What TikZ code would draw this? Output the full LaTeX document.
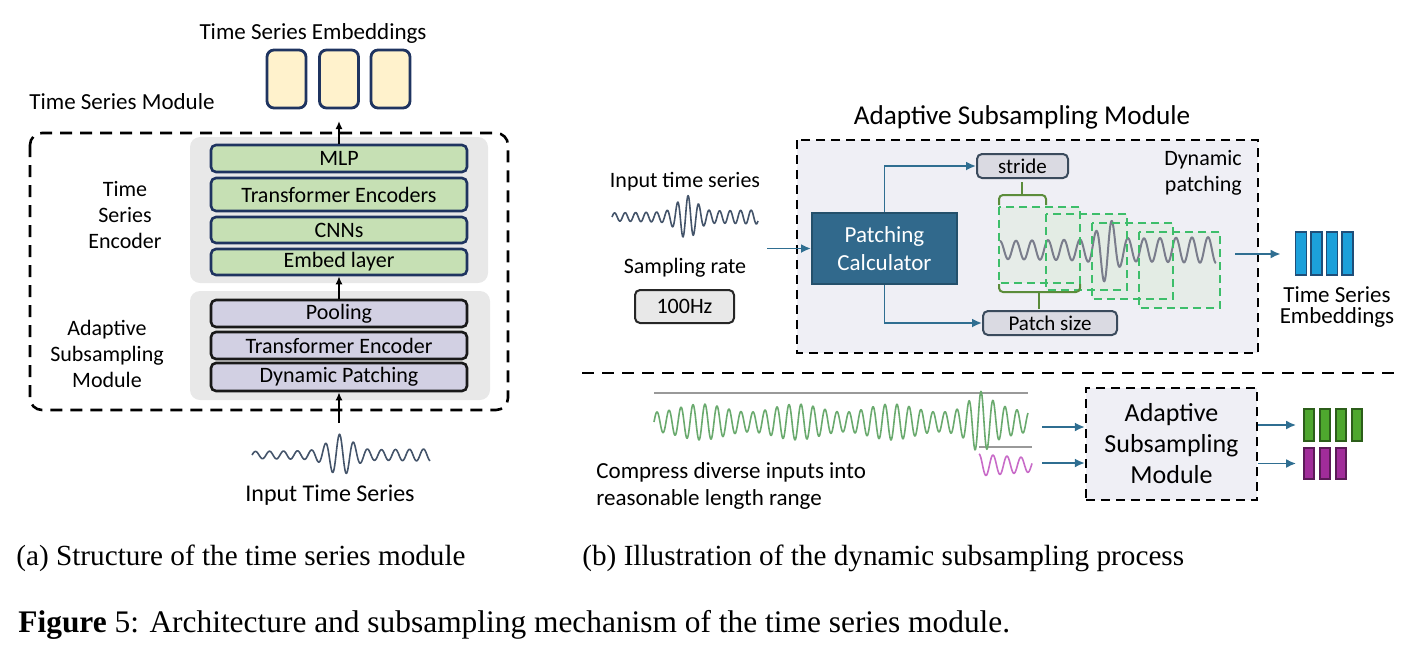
\documentclass[tikz,border=0pt]{standalone}
\usepackage{fontspec}
\setmainfont{Liberation Serif}
\newfontfamily\dfont{Carlito}
\usetikzlibrary{positioning,arrows.meta}

\definecolor{navy}{HTML}{1F3460}
\definecolor{lgreen}{HTML}{C6E0B4}
\definecolor{cream}{HTML}{FFF2CC}
\definecolor{lpurple}{HTML}{D2D0E3}
\definecolor{bggray}{HTML}{E8E8E8}
\definecolor{rbg}{HTML}{EFEFF5}
\definecolor{calcblue}{HTML}{31698C}
\definecolor{calcedge}{HTML}{24506B}
\definecolor{flowblue}{HTML}{2F6E91}
\definecolor{tagfill}{HTML}{DADAE2}
\definecolor{tagedge}{HTML}{3A4A5C}
\definecolor{bracegreen}{HTML}{5B8C3A}
\definecolor{patchgreen}{HTML}{3DBE6A}
\definecolor{patchfill}{HTML}{E3ECE3}
\definecolor{wavegray}{HTML}{7A7D8C}
\definecolor{wavenavy}{HTML}{44546A}
\definecolor{wavegreen}{HTML}{6AAA6E}
\definecolor{wavepink}{HTML}{C86BC8}
\definecolor{embblue}{HTML}{1CA0DA}
\definecolor{embedge}{HTML}{1F4E79}
\definecolor{bargreen}{HTML}{4EA72E}
\definecolor{baredge}{HTML}{2C5E1A}
\definecolor{barpurple}{HTML}{A12C9A}
\definecolor{barpedge}{HTML}{5C1A58}

\tikzset{
  lbl/.style={font=\dfont\fontsize{11}{13}\selectfont, inner sep=0pt, align=center},
  layer/.style={lbl, draw=navy, fill=lgreen, line width=1.3pt, rounded corners=2.5pt,
    minimum width=128pt},
  sublayer/.style={layer, draw=black!90, fill=lpurple},
  embcell/.style={draw=navy, fill=cream, line width=1.4pt, rounded corners=3.5pt,
    minimum width=19.5pt, minimum height=29pt, inner sep=0pt},
  tag/.style={lbl, font=\dfont\fontsize{10.5}{12}\selectfont, draw=tagedge, fill=tagfill,
    line width=1pt, rounded corners=2.5pt, minimum height=12pt},
  modbox/.style={draw=black, dashed, line width=1.2pt, dash pattern=on 4.5pt off 3pt},
  up/.style={-{Latex[length=4pt,width=3.5pt]}, line width=0.8pt},
  flow/.style={draw=flowblue, line width=0.9pt, -{Latex[length=5pt,width=4.5pt]}},
  bar/.style={draw=embedge, fill=embblue, line width=0.9pt, minimum width=5.5pt,
    minimum height=21.5pt, inner sep=0pt},
  wave/.style={line width=0.8pt, line join=round},
  patch/.style={draw=patchgreen, line width=1.1pt, dash pattern=on 4pt off 2.5pt},
  caption/.style={anchor=west, inner sep=0pt, font=\fontsize{14.6}{16}\selectfont}
}

\begin{document}
\begin{tikzpicture}[x=0.5pt, y=-0.5pt]
  \useasboundingbox (0,0) rectangle (1426,654);

  % ---------- (a) time series module ----------
  \node[lbl, font=\dfont\fontsize{11.5}{13}\selectfont] (emb_title) at (313,33) {Time Series Embeddings};
  \node[embcell] (e_1) at (286.5,79) {};
  \node[embcell] (e_2) at (339,79) {};
  \node[embcell] (e_3) at (390.5,79) {};
  \node[lbl, font=\dfont\fontsize{11.5}{13}\selectfont] (mod_title) at (122,102) {Time Series Module};

  \fill[bggray, rounded corners=5pt] (190,137) rectangle (488,283);
  \fill[bggray, rounded corners=5pt] (190,291) rectangle (490,400);
  \draw[line width=1.3pt, dash pattern=on 6pt off 4pt, rounded corners=6pt] (30,133) rectangle (508,410);

  \node[layer, minimum height=13.5pt] (mlp)  at (339,158.5) {MLP};
  \node[layer, minimum height=16.5pt] (tfe)  at (339,194.5) {Transformer Encoders};
  \node[layer, minimum height=13pt]   (cnn)  at (339,230)   {CNNs};
  \node[layer, minimum height=13pt]   (embl) at (339,262)   {Embed layer};

  \node[sublayer, minimum height=13.5pt] (pool)   at (339,313.5) {Pooling};
  \node[sublayer, minimum height=13.5pt] (tfe_s)  at (339,345.5) {Transformer Encoder};
  \node[sublayer, minimum height=14pt]   (dpatch) at (339,377)   {Dynamic Patching};

  \node[lbl] (enc_lbl) at (125,215) {Time\\Series\\Encoder};
  \node[lbl] (asm_lbl) at (107,354) {Adaptive\\Subsampling\\Module};

  \coordinate (emb_tip) at (339,121);
  \coordinate (ts_top) at (339,423);
  \draw[up] (mlp.north) -- (emb_tip);
  \draw[up] (pool.north) -- (embl.south);
  \draw[up] (ts_top) -- (dpatch.south);

  \draw[wave, wavenavy] plot[domain=0:178, samples=300]
    ({252+\x}, {455-(3.5+16*exp(-min((\x-88)*(\x-88)/256,9))+2.5/178*\x)*sin(360/14*\x)});
  \node[lbl, font=\dfont\fontsize{12}{14}\selectfont] (in_lbl) at (330,495) {Input Time Series};

  % ---------- (b) dynamic subsampling ----------
  \node[lbl, font=\dfont\fontsize{13.6}{15}\selectfont] (asm_title) at (1022,117) {Adaptive Subsampling Module};
  \draw[modbox, fill=rbg] (797,140) rectangle (1258,353);

  \node[lbl] (in_ts) at (685,182) {Input time series};
  \draw[wave, wavenavy] plot[domain=0:146, samples=260]
    ({612+\x}, {217-(4+16*exp(-min((\x-75)*(\x-75)/169,9))+3/146*\x)*sin(360/10.5*\x)});
  \node[lbl] (srate) at (685,268) {Sampling rate};
  \node[tag, font=\dfont\fontsize{11}{12}\selectfont, draw=black!85, fill=bggray,
    minimum width=49.5pt, minimum height=16.5pt] (hz) at (684.5,306.5) {100Hz};

  \node[lbl, font=\dfont\fontsize{11.5}{14}\selectfont, text=white, draw=calcedge, fill=calcblue,
    line width=1pt, minimum width=72.5pt, minimum height=35.5pt] (calc) at (884.5,248.5)
    {Patching\\Calculator};
  \coordinate (calc_in) at (767,248.5);
  \draw[flow] (calc_in) -- (calc.west);

  \node[tag, minimum width=45.5pt] (stride) at (1022.5,166) {stride};
  \node[tag, minimum width=67pt]   (psize)  at (1050,323)   {Patch size};
  \draw[flow] (calc.north) |- (stride.west);
  \draw[flow] (calc.south) |- (psize.west);

  \node[lbl, align=right] (dyn_lbl) at (1203,173) {Dynamic\\patching};

  % patches
  \foreach \px/\py in {999/207, 1046/214, 1092/223, 1139/232}
    \fill[patchfill, opacity=0.7] (\px,\py) rectangle ++(81,76);
  \draw[wave, wavegray, line width=1pt] plot[domain=0:216, samples=400]
    ({1000+\x}, {250-(9+4/216*\x+22*exp(-min((\x-107)/11*(\x-107)/11,9)))*sin(22.5*(\x+4))});
  \foreach \px/\py in {999/207, 1046/214, 1092/223, 1139/232}
    \draw[patch] (\px,\py) rectangle ++(81,76);

  % stride and patch size brackets
  \draw[bracegreen, line width=1pt, rounded corners=2pt]
    (999,205) -- (999,195) -- (1046,195) -- (1046,205);
  \draw[bracegreen, line width=1pt] (1022,195) -- (1022,182);
  \draw[bracegreen, line width=1pt, rounded corners=2pt]
    (999,284) -- (999,292) -- (1080,292) -- (1080,284);
  \draw[bracegreen, line width=1pt] (1039,292) -- (1039,309);

  % output embeddings
  \foreach \i/\bx in {1/1301, 2/1316.5, 3/1332, 4/1347.5}
    \node[bar] (b_\i) at (\bx,253.5) {};
  \coordinate (p_out) at (1235,254);
  \draw[flow, shorten >=7pt] (p_out) -- (b_1.west |- p_out);
  \node[lbl, font=\dfont\fontsize{11.5}{10.5}\selectfont] (ts_emb) at (1337,307) {Time Series\\Embeddings};

  % separator
  \draw[line width=1.4pt, dash pattern=on 6pt off 4pt] (582,373) -- (1400,373);

  % diverse inputs
  \draw[black!40, line width=0.6pt] (654,393) -- (1028,393);
  \draw[black!40, line width=0.6pt] (979,447) -- (1032,447);
  \draw[wave, wavegreen] plot[domain=0:374, samples=700]
    ({654+\x}, {422-(10+4-4*cos(360/95*\x)+13*exp(-min((\x-326)/12*(\x-326)/12,9)))*sin(30*\x)});
  \draw[wave, wavepink] plot[domain=0:53, samples=120]
    ({979+\x}, {465-(11-4/53*\x)*sin(360/14*(\x+3.5))});

  \node[lbl, font=\dfont\fontsize{13}{15.5}\selectfont, modbox, fill=rbg,
    minimum width=85.5pt, minimum height=56pt] (asm_b) at (1171.5,444)
    {Adaptive\\Subsampling\\Module};
  \coordinate (g_in) at (1042,427);
  \coordinate (p_in) at (1042,463);
  \draw[flow] (g_in) -- (g_in -| asm_b.west);
  \draw[flow] (p_in) -- (p_in -| asm_b.west);

  \foreach \i/\bx in {1/1309, 2/1325, 3/1341, 4/1357}
    \node[bar, draw=baredge, fill=bargreen, minimum width=5pt, minimum height=16pt] (g_\i) at (\bx,425) {};
  \foreach \i/\bx in {1/1309, 2/1325, 3/1341}
    \node[bar, draw=barpedge, fill=barpurple, minimum width=5pt, minimum height=15.5pt] (v_\i) at (\bx,463.5) {};
  \draw[flow, shorten >=3.5pt] (asm_b.east |- g_1) -- (g_1.west);
  \draw[flow, shorten >=3.5pt] (asm_b.east |- v_1) -- (v_1.west);

  \node[lbl, font=\dfont\fontsize{11.5}{13.5}\selectfont, align=left, anchor=west] (cmp_lbl) at (596,486)
    {Compress diverse inputs into\\reasonable length range};

  % ---------- captions ----------
  \node[caption] (cap_a) at (16,558) {(a) Structure of the time series module};
  \node[caption] (cap_b) at (582,558) {(b) Illustration of the dynamic subsampling process};
  \node[caption, font=\fontsize{15.7}{17}\selectfont] (cap_fig) at (18,625)
    {\textbf{Figure} 5: Architecture and subsampling mechanism of the time series module.};
\end{tikzpicture}
\end{document}
